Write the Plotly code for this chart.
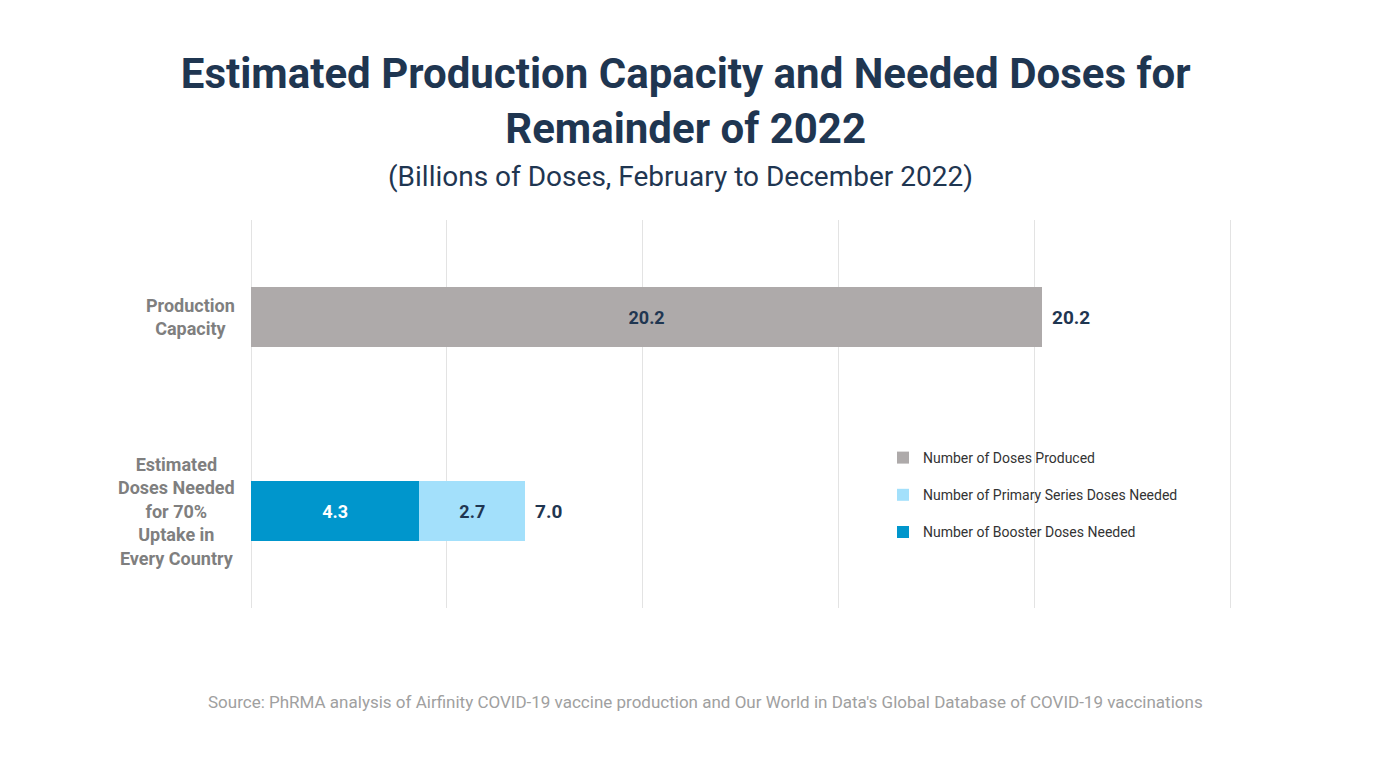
import plotly.graph_objects as go

categories = ["Estimated<br>Doses Needed<br>for 70%<br>Uptake in<br>Every Country", "Production<br>Capacity"]
cat_keys = ["needed", "production"]
produced = [None, 20.2]
booster = [4.3, None]
primary = [2.7, None]
totals = [7.0, 20.2]

NAVY = "#1f3651"
GRAY_TXT = "#7f7f7f"

PL, PR, PT, PB = 251, 150, 220, 173
PW = 1388 - PL - PR
PH = 781 - PT - PB

fig = go.Figure()
fig.add_trace(go.Bar(
    y=cat_keys, x=produced, orientation="h", name="Number of Doses Produced",
    marker=dict(color="#aeaaaa", line=dict(width=0)),
    text=[None if v is None else f"{v:.1f}" for v in produced],
    textposition="inside", insidetextanchor="middle",
    textfont=dict(color=NAVY, size=18, family="Roboto", weight="bold"),
    legendgroup="a", legendrank=1, hoverinfo="skip"))
fig.add_trace(go.Bar(
    y=cat_keys, x=booster, orientation="h", name="Number of Booster Doses Needed",
    marker=dict(color="#0096cc", line=dict(width=0)),
    text=[None if v is None else f"{v:.1f}" for v in booster],
    textposition="inside", insidetextanchor="middle",
    textfont=dict(color="white", size=18, family="Roboto", weight="bold"),
    legendgroup="c", legendrank=3, hoverinfo="skip"))
fig.add_trace(go.Bar(
    y=cat_keys, x=primary, orientation="h", name="Number of Primary Series Doses Needed",
    marker=dict(color="#a3e0fb", line=dict(width=0)),
    text=[None if v is None else f"{v:.1f}" for v in primary],
    textposition="inside", insidetextanchor="middle",
    textfont=dict(color=NAVY, size=18, family="Roboto", weight="bold"),
    legendgroup="b", legendrank=2, hoverinfo="skip"))

annotations = []
for k, t in zip(cat_keys, totals):
    annotations.append(dict(x=t, y=k, xref="x", yref="y", text=f"{t:.1f}", showarrow=False,
                            xanchor="left", xshift=8,
                            font=dict(color=NAVY, size=19, family="Roboto", weight="bold")))
for k, lab in zip(cat_keys, categories):
    annotations.append(dict(x=0, y=k, xref="paper", yref="y", text=lab, showarrow=False,
                            xanchor="right", align="center", xshift=-14,
                            font=dict(color=GRAY_TXT, size=18, family="Roboto", weight="bold")))
annotations.append(dict(x=(680 - PL) / PW, y=(608 - 177) / PH, xref="paper", yref="paper",
                        text="(Billions of Doses, February to December 2022)", showarrow=False,
                        xanchor="center", yanchor="middle",
                        font=dict(color=NAVY, size=28, family="Roboto")))
annotations.append(dict(x=(705 - PL) / PW, y=(608 - 702) / PH, xref="paper", yref="paper",
                        text="Source: PhRMA analysis of Airfinity COVID-19 vaccine production and Our World in Data's Global Database of COVID-19 vaccinations",
                        showarrow=False, xanchor="center", yanchor="middle",
                        font=dict(color="#a0a0a0", size=17, family="Roboto")))

fig.update_layout(
    width=1388, height=781,
    margin=dict(l=PL, r=PR, t=PT, b=PB),
    paper_bgcolor="white", plot_bgcolor="white",
    barmode="stack", bargap=0.686,
    title=dict(text="Estimated Production Capacity and Needed Doses for<br>Remainder of 2022",
               x=0.494, xanchor="center", y=(781 - 88) / 781, yanchor="middle",
               font=dict(color=NAVY, size=42, family="Roboto", weight="bold")),
    xaxis=dict(range=[0, 25.2], dtick=5, tick0=0, showticklabels=False, showgrid=True,
               gridcolor="#e3e3e3", gridwidth=1, zeroline=True, zerolinecolor="#e3e3e3",
               zerolinewidth=1, showline=False, fixedrange=True),
    yaxis=dict(categoryorder="array", categoryarray=cat_keys, showticklabels=False,
               showgrid=False, zeroline=False, range=[-0.5, 1.5]),
    legend=dict(x=(883 - PL) / PW, y=(608 - 442) / PH, xanchor="left", yanchor="top",
                traceorder="grouped", tracegroupgap=16, bgcolor="rgba(0,0,0,0)",
                font=dict(color="#333333", size=14, family="Roboto")),
    annotations=annotations,
    uniformtext=dict(mode="show", minsize=10),
)

fig.write_html("out.html")
